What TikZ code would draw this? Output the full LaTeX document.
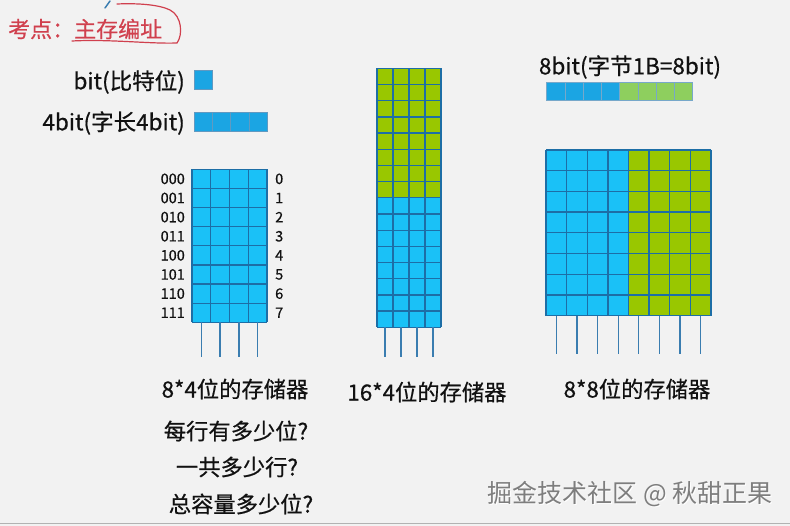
\documentclass[tikz,border=0pt]{standalone}
\usepackage{fontspec}
\setmainfont{Noto Sans CJK SC}
\newfontfamily\medfont{Noto Sans CJK SC}[FakeBold=0.6]
\definecolor{bg}{HTML}{F2F2F2}
\definecolor{cellblue}{HTML}{1AC1F7}
\definecolor{cellgreen}{HTML}{99C700}
\definecolor{gridline}{HTML}{1D6EA6}
\definecolor{barblue}{HTML}{1BA5E3}
\definecolor{bargreen}{HTML}{8ECF5E}
\definecolor{pinline}{HTML}{3A7DB0}
\definecolor{txt}{HTML}{111111}
\definecolor{redink}{HTML}{D0404E}
\definecolor{wm}{HTML}{7E7E7E}
\tikzset{
  lbl/.style={font=\medfont\fontsize{22.5}{26}\selectfont, text=txt, inner sep=0pt},
  addr/.style={font=\medfont\fontsize{14.5}{16}\selectfont, text=txt, inner sep=0pt},
  captxt/.style={font=\medfont\fontsize{22.3}{26}\selectfont, text=txt, inner sep=0pt},
  gridl/.style={draw=gridline, line width=1.3pt},
  pinl/.style={draw=pinline, line width=1.3pt},
}
\begin{document}
\begin{tikzpicture}[x=1pt,y=-1pt]
\fill[bg] (0,0) rectangle (790,526);
\useasboundingbox (0,0) rectangle (790,526);
\draw[gray!60, line width=1.5pt] (0,523.5) -- (790,523.5);

% title
\node[font=\medfont\fontsize{22}{26}\selectfont, text=redink, anchor=west, inner sep=0pt] (title) at (8,29) {考点：主存编址};
\draw[redink, line width=1.2pt, line cap=round] (72,41) .. controls (110,39) and (150,44) .. (177,43)
  .. controls (183,35) and (182,16) .. (170,10) .. controls (160,5) and (140,3) .. (117,4);
\draw[pinline, line width=1.5pt, line cap=round] (105,8) -- (110,1);

% bit and 4bit
\node[lbl, anchor=east] (bitlbl) at (185,82) {bit(比特位)};
\node[lbl, anchor=east] (fourlbl) at (185,123) {4bit(字长4bit)};
\filldraw[fill=barblue, draw=gridline!70, line width=0.9pt] (194,70.7) rectangle (212.3,89);
\filldraw[fill=barblue, draw=gridline!70, line width=0.9pt] (194,112.3) rectangle (267.3,131);
\foreach \i in {1,2,3}{\draw[gridline!70, line width=0.9pt] ({194+\i*18.325},112.3) -- ({194+\i*18.325},131);}

% memory 1: 8x4
\fill[cellblue] (192,169.3) rectangle (267,322.3);
\foreach \i in {0,...,8}{\draw[gridl] (192,{169.3+\i*19.125}) -- (267,{169.3+\i*19.125});}
\foreach \j in {0,...,4}{\draw[gridl] ({192+\j*18.75},169.3) -- ({192+\j*18.75},322.3);}
\foreach \j in {0,...,3}{\draw[pinl] ({192+(\j+0.5)*18.75},322.3) -- ({192+(\j+0.5)*18.75},357);}
\foreach \a [count=\i from 0] in {000,001,010,011,100,101,110,111}{
  \node[addr, anchor=east] (a\i) at (185,{169.3+(\i+0.5)*19.125}) {\a};
  \node[addr, anchor=west] (n\i) at (275,{169.3+(\i+0.5)*19.125}) {\i};
}

% memory 2: 16x4
\fill[cellgreen] (377,68.3) rectangle (441,197.8);
\fill[cellblue] (377,197.8) rectangle (441,327.3);
\foreach \i in {0,...,16}{\draw[gridl] (377,{68.3+\i*16.1875}) -- (441,{68.3+\i*16.1875});}
\foreach \j in {0,...,4}{\draw[gridl] ({377+\j*16},68.3) -- ({377+\j*16},327.3);}
\foreach \j in {0,...,3}{\draw[pinl] ({377+(\j+0.5)*16},327.3) -- ({377+(\j+0.5)*16},357);}

% 8bit bar
\node[lbl] (bytelbl) at (630,67) {8bit(字节1B=8bit)};
\fill[barblue] (546.7,82.3) rectangle (619.7,100.7);
\fill[bargreen] (619.7,82.3) rectangle (692.7,100.7);
\draw[gridline!60, line width=0.9pt] (546.7,82.3) rectangle (692.7,100.7);
\foreach \i in {1,...,7}{\draw[gridline!60, line width=0.9pt] ({546.7+\i*18.25},82.3) -- ({546.7+\i*18.25},100.7);}

% memory 3: 8x8
\fill[cellblue] (546,150) rectangle (628.5,315.7);
\fill[cellgreen] (628.5,150) rectangle (711,315.7);
\foreach \i in {0,...,8}{\draw[gridl] (546,{150+\i*20.7125}) -- (711,{150+\i*20.7125});}
\foreach \j in {0,...,8}{\draw[gridl] ({546+\j*20.625},150) -- ({546+\j*20.625},315.7);}
\foreach \j in {0,...,7}{\draw[pinl] ({546+(\j+0.5)*20.625},315.7) -- ({546+(\j+0.5)*20.625},354);}

% captions
\node[captxt] (c1) at (235,389) {8*4位的存储器};
\node[captxt] (c2) at (427,392) {16*4位的存储器};
\node[captxt] (c3) at (637,389) {8*8位的存储器};
\node[captxt] (q1) at (236,431) {每行有多少位?};
\node[captxt] (q2) at (237,467) {一共多少行?};
\node[captxt] (q3) at (241,504) {总容量多少位?};

% watermark
\node[font=\fontsize{25}{28}\selectfont, text=white, inner sep=0pt] (wmshadow) at (631,495) {掘金技术社区 @ 秋甜正果};
\node[font=\fontsize{25}{28}\selectfont, text=wm, inner sep=0pt] (wmark) at (630,494) {掘金技术社区 @ 秋甜正果};
\end{tikzpicture}
\end{document}
